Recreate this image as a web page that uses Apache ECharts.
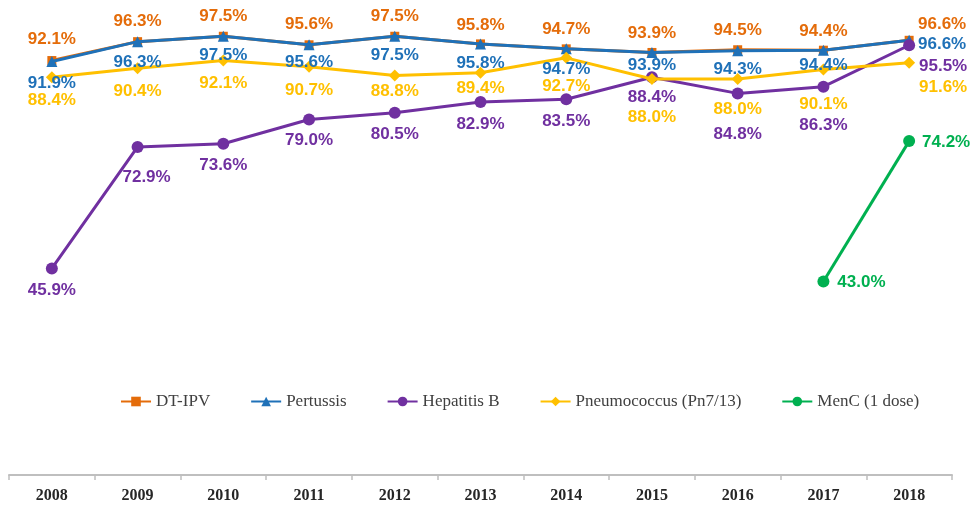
<!DOCTYPE html>
<html>
<head>
<meta charset="utf-8">
<script src="https://cdn.jsdelivr.net/npm/echarts@6/dist/echarts.min.js"></script>
<style>
html,body{margin:0;padding:0;background:#fff;}
#chart{width:973px;height:507px;}
</style>
</head>
<body>
<div id="chart"></div>
<script>
// ---- data ----
const years = ['2008','2009','2010','2011','2012','2013','2014','2015','2016','2017','2018'];
const dtIpv = [92.1, 96.3, 97.5, 95.6, 97.5, 95.8, 94.7, 93.9, 94.5, 94.4, 96.6];
const pertussis = [91.9, 96.3, 97.5, 95.6, 97.5, 95.8, 94.7, 93.9, 94.3, 94.4, 96.6];
const hepatitisB = [45.9, 72.9, 73.6, 79.0, 80.5, 82.9, 83.5, 88.4, 84.8, 86.3, 95.5];
const pneumococcus = [88.4, 90.4, 92.1, 90.7, 88.8, 89.4, 92.7, 88.0, 88.0, 90.1, 91.6];
const menC = [null, null, null, null, null, null, null, null, null, 43.0, 74.2];
const seriesNames = ['DT-IPV', 'Pertussis', 'Hepatitis B', 'Pneumococcus (Pn7/13)', 'MenC (1 dose)'];

// ---- label placement (label centre relative to point) ----
const offDt = [[0,-21],[0,-20],[0,-20],[0,-20],[0,-20],[0,-19],[0,-20],[0,-19],[0,-19],[0,-19],[33,-16]];
const offPe = [[0,22],[0,21],[0,19],[0,18],[0,19],[0,19],[0,20],[0,13],[0,19],[0,15],[33,4]];
const offHb = [[0,22],[9,30],[0,22],[0,21],[0,22],[0,22],[0,22],[0,20],[0,41],[0,39],[34,21]];
const offPn = [[0,23],[0,23],[0,23],[0,23],[0,16],[0,16],[0,28],[0,38],[0,30],[0,35],[34,25]];
const offMc = [[0,0],[0,0],[0,0],[0,0],[0,0],[0,0],[0,0],[0,0],[0,0],[38,1],[37,1]];

const colors = ['#E46C0A', '#1F71B8', '#7030A0', '#FFC000', '#00B050'];
const symbols = ['rect', 'triangle', 'circle', 'diamond', 'circle'];
const symbolSizes = [9, 11, 12, 12, 12];
const values = [dtIpv, pertussis, hepatitisB, pneumococcus, menC];
const offsets = [offDt, offPe, offHb, offPn, offMc];

// line + marker series
const lineSeries = values.map((vals, s) => ({
  name: seriesNames[s],
  type: 'line',
  symbol: symbols[s],
  symbolSize: symbolSizes[s],
  showSymbol: true,
  connectNulls: false,
  lineStyle: { width: 3, color: colors[s] },
  itemStyle: { color: colors[s] },
  emphasis: { disabled: true },
  z: 2 + s,
  label: { show: false },
  data: vals.map(v => v === null ? '-' : v)
}));

// data labels drawn on top of every line (as in the original)
const labelSeries = values.map((vals, s) => ({
  name: seriesNames[s] + ' labels',
  type: 'scatter',
  symbolSize: 1,
  itemStyle: { color: 'rgba(0,0,0,0)' },
  silent: true,
  emphasis: { disabled: true },
  z: 20,
  label: {
    show: true,
    position: 'inside',
    opacity: 1,
    color: colors[s],
    fontFamily: '"Liberation Sans", Arial, sans-serif',
    fontWeight: 'bold',
    fontSize: 17,
    formatter: p => (typeof p.value === 'number' ? p.value.toFixed(1) + '%' : '')
  },
  data: vals.map((v, i) => v === null ? '-' : { value: v, label: { offset: offsets[s][i] } })
}));

const chart = echarts.init(document.getElementById('chart'), null, { renderer: 'canvas' });
chart.setOption({
  animation: false,
  backgroundColor: '#ffffff',
  color: colors,
  grid: { left: 9, right: 21, top: 25, bottom: 32, containLabel: false, outerBoundsMode: 'none' },
  legend: {
    data: seriesNames,
    left: 115,
    top: 388,
    itemWidth: 30,
    itemHeight: 12,
    itemGap: 40,
    selectedMode: false,
    textStyle: {
      fontFamily: '"Liberation Serif", "Times New Roman", serif',
      fontSize: 17,
      color: '#404040'
    }
  },
  xAxis: {
    type: 'category',
    data: years,
    boundaryGap: true,
    axisLine: { lineStyle: { color: '#BFBFBF', width: 2 } },
    axisTick: { show: true, length: 5, lineStyle: { color: '#BFBFBF', width: 1.5 } },
    axisLabel: {
      margin: 13,
      fontFamily: '"Liberation Serif", "Times New Roman", serif',
      fontWeight: 'bold',
      fontSize: 16,
      color: '#262626'
    },
    splitLine: { show: false }
  },
  yAxis: {
    type: 'value',
    min: 0,
    max: 100,
    show: false,
    splitLine: { show: false }
  },
  series: lineSeries.concat(labelSeries)
});
</script>
</body>
</html>
